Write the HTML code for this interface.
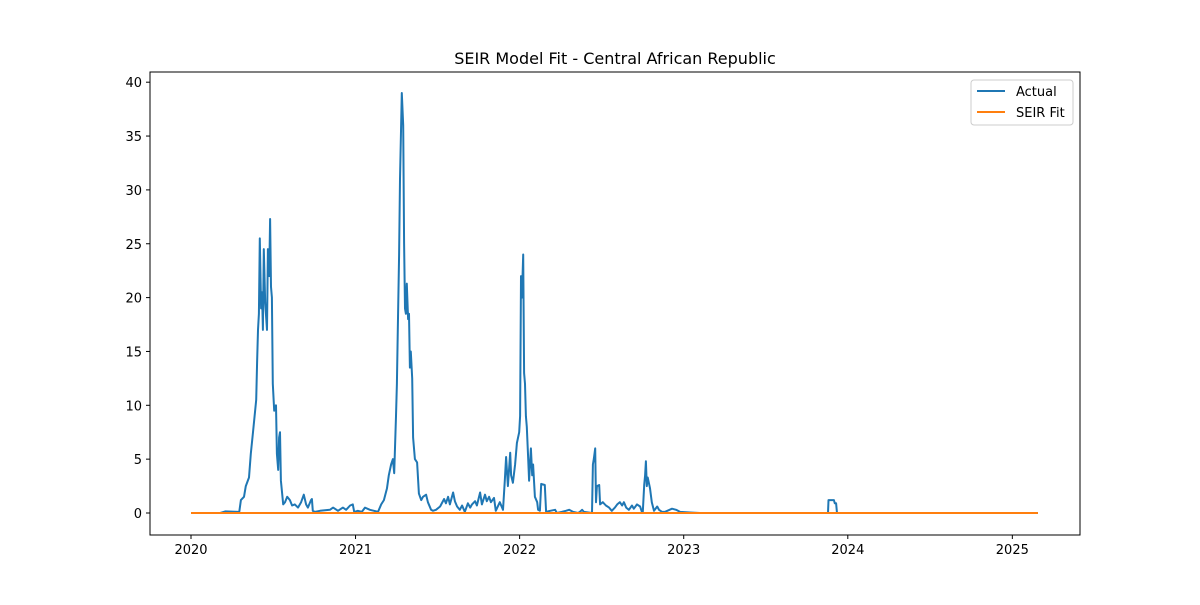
<!DOCTYPE html>
<html><head><meta charset="utf-8"><style>
body{margin:0;background:#fff;font-family:"Liberation Sans","DejaVu Sans",sans-serif}
svg text{font-family:"DejaVu Sans","Liberation Sans",sans-serif}
</style></head><body>
<svg id="chart" width="1200" height="600" xmlns="http://www.w3.org/2000/svg">
<rect width="1200" height="600" fill="#fff"/>
<text x="615" y="64" font-size="16" text-anchor="middle">SEIR Model Fit - Central African Republic</text>
<g id="plot"></g>
<rect x="150" y="72" width="930" height="463" fill="none" stroke="#000" stroke-width="1"/>
<g>
<rect x="971" y="80" width="102" height="45" rx="3" fill="#fff" stroke="#ccc"/>
<line x1="977" y1="91" x2="1005" y2="91" stroke="#1f77b4" stroke-width="2"/>
<text x="1016" y="96" font-size="13">Actual</text>
<line x1="977" y1="112" x2="1005" y2="112" stroke="#ff7f0e" stroke-width="2"/>
<text x="1016" y="117" font-size="13">SEIR Fit</text>
</g>
</svg>
<script>
const days=[0,65,76,105,107,111,118,122,129,133,138,145,147,149,151,153,156,158,160,162,165,169,171,174,176,178,180,182,185,189,191,194,196,198,200,205,209,214,220,225,231,238,245,251,256,260,267,269,271,276,287,309,316,327,338,345,354,360,363,371,380,387,398,407,416,423,429,436,440,445,449,452,456,458,460,463,465,469,472,474,476,478,480,483,485,487,489,492,494,498,503,507,512,516,523,527,534,538,545,554,563,567,572,576,583,587,592,598,603,609,616,621,625,632,636,643,647,654,658,663,667,674,678,687,694,698,701,705,710,712,716,721,725,730,732,734,736,739,741,743,745,747,750,752,754,756,759,761,763,765,770,772,776,779,787,790,799,810,814,825,834,841,850,861,865,870,874,892,894,896,899,901,903,908,910,916,923,930,936,943,948,954,959,963,968,974,981,985,992,999,1003,1005,1008,1010,1012,1014,1016,1021,1025,1030,1037,1041,1048,1054,1070,1079,1088,1110,1132,1417,1418,1430,1432,1435,1437,1884];
const actual=[0,0,0.15,0.1,0,1.2,1.5,2.5,3.3,5.5,7.5,10.5,14,17,18.5,25.5,19,20.5,17,24.5,19.5,17,24.5,22,27.3,21,20,12,9.5,10,5.5,4,7,7.5,3,0.8,1,1.5,1.2,0.7,0.8,0.5,1,1.7,0.8,0.5,1.2,1.3,0.2,0.1,0.2,0.3,0.5,0.2,0.5,0.3,0.7,0.8,0.1,0.2,0.1,0.5,0.3,0.2,0.1,0.8,1.2,2.3,3.5,4.5,5,3.7,9,12,17,24,31,39,36,25,19,18.5,21.3,18,18.5,13.5,15,12.5,7,5,4.7,1.8,1.2,1.5,1.7,1,0.3,0.2,0.3,0.6,1.3,0.9,1.5,0.8,1.9,1.1,0.6,0.3,0.7,0.1,0.9,0.5,0.8,1.1,0.7,1.9,0.8,1.7,1.1,1.5,1,1.4,0.2,1,0.3,3,5.2,2.5,5.6,3.5,2.8,4.5,6.5,7.5,9,22,20,24,13,12,9,8,5,3,4.5,6,3.5,4.5,3,1.5,1,0.3,0.2,2.7,2.6,0.1,0.2,0.3,0,0.1,0.2,0.3,0.1,0,0.1,0.3,0.1,0,4.5,5,6,1,2.5,2.6,0.8,1,0.7,0.5,0.2,0.5,0.8,1,0.7,1,0.5,0.3,0.7,0.4,0.8,0.6,0.1,0.1,2.6,3.5,4.8,2.5,3.3,2.3,1,0.2,0.6,0.3,0.1,0.1,0.4,0.3,0.1,0.05,0,0,1.2,1.2,0.9,0.9,0,0];
const fitDays=[0,1884];
const fitValues=[0,0];
const yTicks=[0,5,10,15,20,25,30,35,40];
const xTickDays=[0,366,731,1096,1461,1827];
const xTickLabels=["2020","2021","2022","2023","2024","2025"];

const NS="http://www.w3.org/2000/svg";
const g=document.getElementById('plot');
const xs=d=>191+d*164.2/365.25;
const ys=v=>513-v*10.77;
function mk(t,a){const e=document.createElementNS(NS,t);for(const k in a)e.setAttribute(k,a[k]);g.appendChild(e);return e;}
yTicks.forEach(v=>{
  const l=mk('line',{x1:146,x2:150,y1:ys(v),y2:ys(v),stroke:'#000'});
  
  
  const t=mk('text',{x:142,y:ys(v)+5,'font-size':13,'text-anchor':'end'});
  t.textContent=v;
  
  
});
xTickDays.forEach((d,i)=>{
  const l=mk('line',{x1:xs(d),x2:xs(d),y1:535,y2:539,stroke:'#000'});
  
  
  const t=mk('text',{x:xs(d),y:554,'font-size':13,'text-anchor':'middle'});
  t.textContent=xTickLabels[i];
  
  
});
const p1=mk('polyline',{points:days.map((d,i)=>xs(d).toFixed(1)+','+ys(actual[i]).toFixed(1)).join(' '),fill:'none',stroke:'#1f77b4','stroke-width':2,'stroke-linejoin':'round'});


const p2=mk('polyline',{points:fitDays.map((d,i)=>xs(d)+','+ys(fitValues[i])).join(' '),fill:'none',stroke:'#ff7f0e','stroke-width':2});


</script>
</body></html>
